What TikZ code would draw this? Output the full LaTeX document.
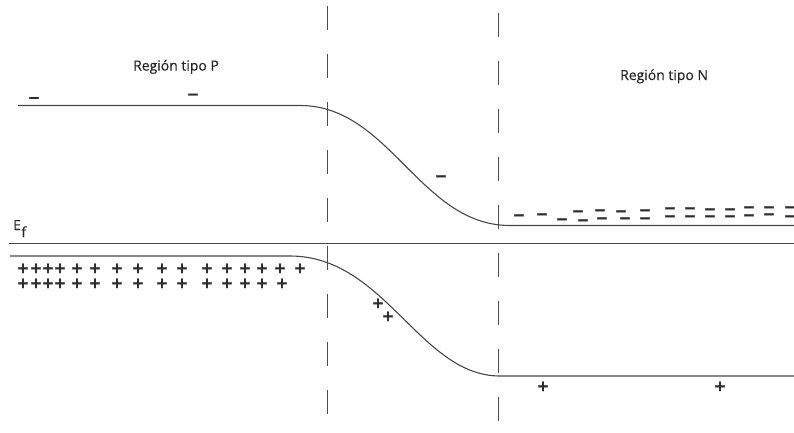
\documentclass[tikz,border=0pt]{standalone}
\usepackage{fontspec}
\setmainfont{Open Sans}[FakeBold=0.4]
\newfontfamily\signfont[FakeBold=1.6]{DejaVu Sans Bold}
\begin{document}
\begin{tikzpicture}[x=1bp,y=-1bp,
  band/.style={line width=1.1bp, draw=black!72},
  vdash/.style={line width=1.2bp, draw=black!70, dash pattern=on 24bp off 24bp},
  lbl/.style={font=\fontsize{14}{16}\selectfont, text=black!85, inner sep=0, anchor=base west},
  chg/.style={font=\signfont\fontsize{15}{15}\selectfont, text=black!82, inner sep=0, anchor=base}
]
\useasboundingbox (0,0) rectangle (794,432);
% dashed junction boundaries
\coordinate (d1t) at (327.5,6);
\coordinate (d1b) at (327.5,432);
\coordinate (d2t) at (498.5,12.5);
\coordinate (d2b) at (498.5,432);
\draw[vdash] (d1t) -- (d1b);
\draw[vdash] (d2t) -- (d2b);
% conduction band
\coordinate (c0) at (18,105.5);
\coordinate (c1) at (300,105.5);
\coordinate (c2) at (510,225.5);
\coordinate (c3) at (794,225.5);
\draw[band] (c0) -- (c1) .. controls (390,105.5) and (420,225.5) .. (c2) -- (c3);
% Fermi level
\coordinate (f0) at (9,243.5);
\coordinate (f1) at (794,243.5);
\draw[band] (f0) -- (f1);
% valence band
\coordinate (v0) at (10,256);
\coordinate (v1) at (290,256);
\coordinate (v2) at (500,376);
\coordinate (v3) at (794,376);
\draw[band] (v0) -- (v1) .. controls (385,256) and (420,376) .. (v2) -- (v3);
% labels
\node[lbl] (lp) at (133,70.5) {Región tipo P};
\node[lbl] (ln) at (620,80) {Región tipo N};
\node[lbl] (ef) at (13,230) {E\kern0.5bp\raisebox{-7bp}{f}};
% negative charges
\foreach \x/\y [count=\i] in {34/97.7, 193/94.3, 441/176,
  519/215, 542/214, 562/219, 583/220, 602/218, 625/218, 645/218, 670/216, 690/216, 710/216, 730/216, 749/215, 769/214, 790/216,
  578/211, 600/210, 621/211, 645/210, 670/208, 690/208, 710/209, 730/209, 749/207, 769/207, 790/207}
  \node[chg] (m\i) at (\x,\y+5) {−};
% positive charges
\foreach \x [count=\i] in {23,36,48,60,77,95,117,138,162,182,207,227,245,262,280,300}
  \node[chg] (pa\i) at (\x,268+5) {+};
\foreach \x [count=\i] in {23,36,48,60,77,95,117,138,162,182,207,227,245,262,282}
  \node[chg] (pb\i) at (\x,283+5) {+};
\foreach \x/\y [count=\i] in {378/303, 388/316, 543/386, 720/386}
  \node[chg] (pc\i) at (\x,\y+5) {+};
\end{tikzpicture}
\end{document}
